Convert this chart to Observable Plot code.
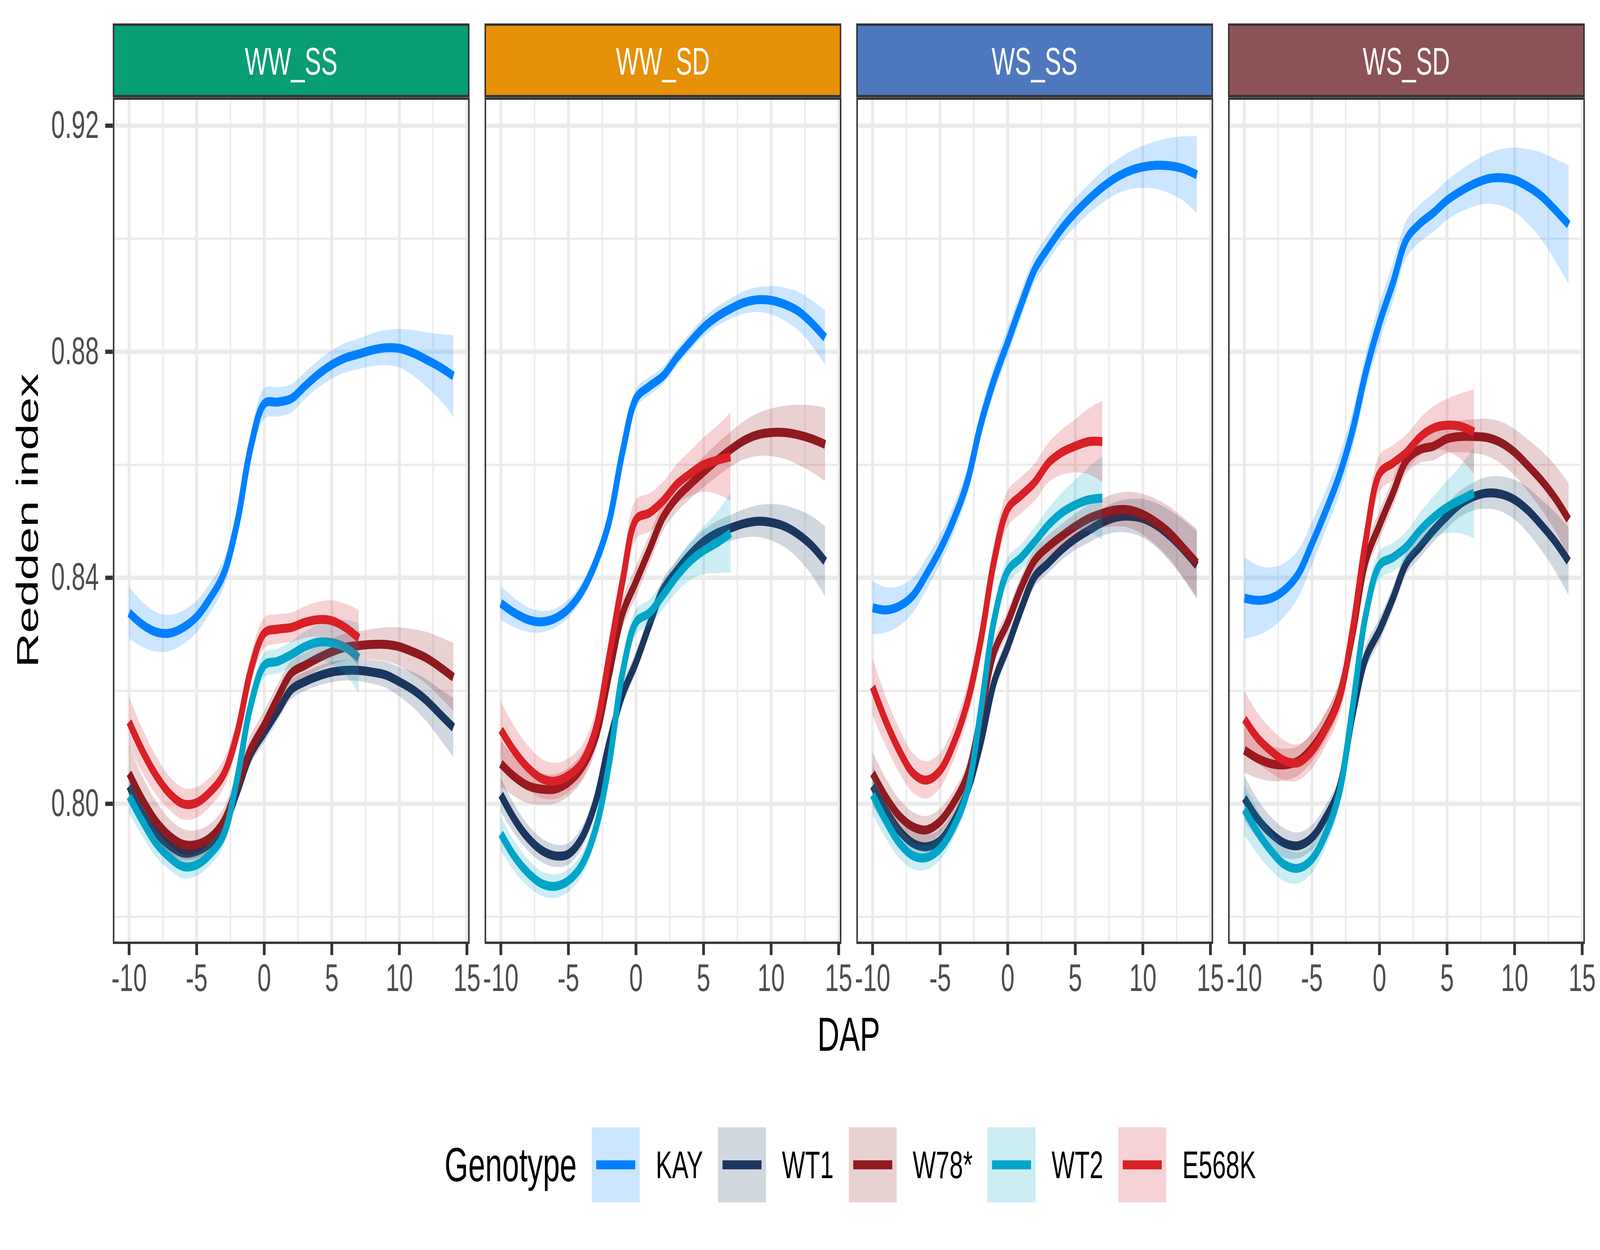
<!DOCTYPE html>
<html>
<head>
<meta charset="utf-8">
<script src="https://cdn.jsdelivr.net/npm/d3@7"></script>
<script src="https://cdn.jsdelivr.net/npm/@observablehq/plot@0.6"></script>
<style>
  html, body { margin: 0; padding: 0; background: #ffffff; overflow: hidden; }
  #outer { position: relative; overflow: hidden; width: 6400px; height: 3200px; background: #ffffff; }
  #wrap { position: absolute; left: 0; top: 0; width: 6400px; height: 3200px; background: #ffffff;
          transform-origin: 0 0;
          font-family: "Liberation Sans", Arial, Helvetica, sans-serif; }
  #chart { position: absolute; left: 0; top: 0; }
  #legend { position: absolute; left: 1778px; top: 2886px; height: 192px;
            display: flex; align-items: center; color: #000; }
  #legend .title { font-size: 122px; margin-right: 60px; line-height: 1; }
  #legend .key { width: 192px; height: 192px; display: block; }
  #legend .lab { font-size: 98px; margin-left: 64px; margin-right: 60px; line-height: 1; }
</style>
</head>
<body>
<div id="outer"><div id="wrap"><div id="chart"></div><div id="legend"></div></div></div>
<script>
// ---------------- data ----------------
const treatments = ["WW_SS", "WW_SD", "WS_SS", "WS_SD"];
const stripColors = ["#089D74", "#E69006", "#4E78BE", "#8C5357"];
const genotypes = ["KAY", "WT1", "W78*", "WT2", "E568K"];
const genoColors = ["#0080FF", "#1B365F", "#8F1A1F", "#00A5C8", "#D92027"];
const dapLong = [-10,-9,-8,-7,-6,-5,-4,-3,-2,-1,0,1,2,3,4,5,6,7,8,9,10,11,12,13,14];
const dapShort = [-10,-9,-8,-7,-6,-5,-4,-3,-2,-1,0,1,2,3,4,5,6,7];
const xTicks = [-10, -5, 0, 5, 10, 15];
const xMinor = [-7.5, -2.5, 2.5, 7.5, 12.5];
const yTicks = [0.80, 0.84, 0.88, 0.92];
const yMinor = [0.78, 0.82, 0.86, 0.90];

// WW_SS
const WW_SS_KAY   = [0.8338,0.8317,0.8304,0.8302,0.8312,0.8331,0.8364,0.8407,0.8498,0.8631,0.8708,0.8711,0.8717,0.8739,0.8760,0.8777,0.8789,0.8796,0.8803,0.8807,0.8806,0.8798,0.8786,0.8773,0.8757];
const WW_SS_WT1   = [0.8031,0.7983,0.7949,0.7926,0.7913,0.7916,0.7930,0.7959,0.8021,0.8088,0.8126,0.8164,0.8202,0.8216,0.8226,0.8233,0.8236,0.8236,0.8233,0.8228,0.8216,0.8202,0.8183,0.8159,0.8135];
const WW_SS_W78   = [0.8054,0.8007,0.7969,0.7943,0.7928,0.7928,0.7940,0.7969,0.8031,0.8097,0.8140,0.8188,0.8231,0.8245,0.8258,0.8269,0.8277,0.8280,0.8282,0.8282,0.8278,0.8269,0.8258,0.8242,0.8224];
const WW_SS_WT2   = [0.8013,0.7969,0.7930,0.7905,0.7889,0.7892,0.7911,0.7945,0.8045,0.8174,0.8245,0.8252,0.8264,0.8278,0.8286,0.8285,0.8277,0.8258];
const WW_SS_E568K = [0.8145,0.8093,0.8050,0.8018,0.8000,0.8002,0.8021,0.8052,0.8125,0.8236,0.8302,0.8309,0.8312,0.8321,0.8326,0.8324,0.8312,0.8293];
// WW_SD
const WW_SD_KAY   = [0.8355,0.8338,0.8326,0.8322,0.8328,0.8345,0.8376,0.8426,0.8498,0.8622,0.8717,0.8739,0.8757,0.8789,0.8817,0.8843,0.8862,0.8876,0.8887,0.8892,0.8891,0.8884,0.8872,0.8851,0.8825];
const WW_SD_WT1   = [0.8016,0.7973,0.7940,0.7918,0.7908,0.7911,0.7940,0.8002,0.8107,0.8193,0.8250,0.8317,0.8379,0.8412,0.8441,0.8464,0.8479,0.8488,0.8496,0.8500,0.8498,0.8491,0.8477,0.8457,0.8429];
const WW_SD_W78   = [0.8071,0.8048,0.8032,0.8026,0.8026,0.8038,0.8064,0.8116,0.8226,0.8336,0.8393,0.8450,0.8507,0.8541,0.8565,0.8587,0.8608,0.8627,0.8643,0.8653,0.8657,0.8657,0.8653,0.8646,0.8636];
const WW_SD_WT2   = [0.7947,0.7907,0.7878,0.7859,0.7854,0.7864,0.7892,0.7954,0.8069,0.8231,0.8321,0.8338,0.8369,0.8402,0.8429,0.8448,0.8462,0.8479];
const WW_SD_E568K = [0.8131,0.8093,0.8064,0.8045,0.8040,0.8050,0.8073,0.8131,0.8259,0.8393,0.8503,0.8515,0.8536,0.8565,0.8584,0.8600,0.8608,0.8614];
// WS_SS
const WS_SS_KAY   = [0.8347,0.8343,0.8350,0.8369,0.8407,0.8450,0.8503,0.8569,0.8671,0.8751,0.8817,0.8884,0.8946,0.8984,0.9018,0.9046,0.9070,0.9091,0.9108,0.9120,0.9127,0.9130,0.9129,0.9124,0.9113];
const WS_SS_WT1   = [0.8032,0.7988,0.7952,0.7930,0.7924,0.7935,0.7969,0.8021,0.8107,0.8216,0.8278,0.8345,0.8402,0.8426,0.8450,0.8469,0.8484,0.8498,0.8507,0.8509,0.8505,0.8493,0.8474,0.8450,0.8422];
const WS_SS_W78   = [0.8054,0.8011,0.7978,0.7959,0.7954,0.7969,0.8002,0.8050,0.8155,0.8269,0.8321,0.8383,0.8431,0.8455,0.8474,0.8491,0.8505,0.8514,0.8520,0.8520,0.8512,0.8498,0.8479,0.8453,0.8426];
const WS_SS_WT2   = [0.8016,0.7969,0.7930,0.7908,0.7905,0.7921,0.7959,0.8021,0.8164,0.8326,0.8412,0.8436,0.8464,0.8493,0.8515,0.8529,0.8538,0.8541];
const WS_SS_E568K = [0.8207,0.8145,0.8093,0.8054,0.8042,0.8059,0.8107,0.8178,0.8288,0.8431,0.8522,0.8546,0.8569,0.8603,0.8622,0.8633,0.8641,0.8641];
// WS_SD
const WS_SD_KAY   = [0.8364,0.8360,0.8364,0.8379,0.8407,0.8460,0.8517,0.8579,0.8660,0.8765,0.8851,0.8922,0.8999,0.9027,0.9046,0.9068,0.9084,0.9097,0.9106,0.9108,0.9104,0.9092,0.9075,0.9051,0.9025];
const WS_SD_WT1   = [0.8010,0.7973,0.7947,0.7930,0.7926,0.7940,0.7975,0.8026,0.8155,0.8259,0.8307,0.8364,0.8426,0.8455,0.8484,0.8509,0.8531,0.8544,0.8550,0.8548,0.8538,0.8519,0.8493,0.8464,0.8429];
const WS_SD_W78   = [0.8095,0.8080,0.8071,0.8069,0.8076,0.8099,0.8135,0.8188,0.8298,0.8431,0.8493,0.8550,0.8608,0.8627,0.8633,0.8646,0.8650,0.8650,0.8648,0.8639,0.8622,0.8598,0.8572,0.8541,0.8503];
const WS_SD_WT2   = [0.7990,0.7949,0.7916,0.7892,0.7886,0.7902,0.7945,0.8016,0.8169,0.8336,0.8422,0.8436,0.8455,0.8484,0.8507,0.8525,0.8538,0.8550];
const WS_SD_E568K = [0.8150,0.8116,0.8093,0.8076,0.8073,0.8093,0.8131,0.8183,0.8307,0.8469,0.8584,0.8603,0.8622,0.8649,0.8665,0.8670,0.8668,0.8658];

// confidence-band half widths (read from the ribbons)
const WW_SS_KAY_se   = [0.0046,0.0040,0.0035,0.0032,0.0030,0.0028,0.0026,0.0025,0.0025,0.0026,0.0027,0.0026,0.0025,0.0024,0.0024,0.0025,0.0026,0.0027,0.0029,0.0031,0.0034,0.0040,0.0048,0.0058,0.0072];
const WW_SS_WT1_se   = [0.0029,0.0025,0.0022,0.0020,0.0019,0.0018,0.0018,0.0017,0.0017,0.0018,0.0018,0.0017,0.0017,0.0017,0.0017,0.0018,0.0018,0.0019,0.0021,0.0023,0.0026,0.0031,0.0037,0.0044,0.0052];
const WW_SS_W78_se   = [0.0048,0.0041,0.0035,0.0030,0.0027,0.0025,0.0024,0.0023,0.0023,0.0024,0.0024,0.0023,0.0022,0.0022,0.0022,0.0023,0.0024,0.0025,0.0027,0.0030,0.0034,0.0040,0.0046,0.0053,0.0060];
const WW_SS_WT2_se   = [0.0030,0.0027,0.0024,0.0022,0.0021,0.0020,0.0020,0.0020,0.0021,0.0022,0.0022,0.0022,0.0023,0.0026,0.0031,0.0038,0.0048,0.0062];
const WW_SS_E568K_se = [0.0045,0.0039,0.0034,0.0030,0.0028,0.0027,0.0026,0.0025,0.0025,0.0026,0.0027,0.0026,0.0026,0.0028,0.0031,0.0036,0.0042,0.0050];
const WW_SD_KAY_se   = [0.0030,0.0026,0.0022,0.0019,0.0017,0.0016,0.0015,0.0015,0.0015,0.0016,0.0017,0.0016,0.0015,0.0015,0.0015,0.0016,0.0017,0.0018,0.0020,0.0022,0.0025,0.0029,0.0034,0.0040,0.0048];
const WW_SD_WT1_se   = [0.0030,0.0026,0.0023,0.0021,0.0020,0.0019,0.0019,0.0018,0.0018,0.0019,0.0019,0.0018,0.0018,0.0018,0.0019,0.0020,0.0021,0.0023,0.0025,0.0028,0.0032,0.0037,0.0043,0.0052,0.0062];
const WW_SD_W78_se   = [0.0040,0.0035,0.0031,0.0028,0.0026,0.0025,0.0025,0.0025,0.0025,0.0026,0.0027,0.0026,0.0025,0.0025,0.0026,0.0027,0.0029,0.0031,0.0034,0.0038,0.0042,0.0047,0.0053,0.0059,0.0065];
const WW_SD_WT2_se   = [0.0030,0.0027,0.0024,0.0022,0.0021,0.0020,0.0020,0.0021,0.0022,0.0023,0.0023,0.0023,0.0025,0.0028,0.0034,0.0042,0.0054,0.0070];
const WW_SD_E568K_se = [0.0050,0.0044,0.0039,0.0035,0.0032,0.0030,0.0030,0.0030,0.0031,0.0033,0.0035,0.0034,0.0033,0.0035,0.0040,0.0048,0.0060,0.0078];
const WS_SS_KAY_se   = [0.0047,0.0040,0.0035,0.0031,0.0028,0.0026,0.0025,0.0024,0.0024,0.0024,0.0025,0.0024,0.0024,0.0024,0.0024,0.0025,0.0026,0.0028,0.0030,0.0033,0.0037,0.0042,0.0049,0.0057,0.0068];
const WS_SS_WT1_se   = [0.0035,0.0030,0.0026,0.0023,0.0021,0.0020,0.0019,0.0018,0.0018,0.0019,0.0019,0.0018,0.0018,0.0018,0.0019,0.0020,0.0022,0.0024,0.0027,0.0030,0.0034,0.0039,0.0045,0.0052,0.0060];
const WS_SS_W78_se   = [0.0038,0.0033,0.0029,0.0026,0.0024,0.0022,0.0021,0.0020,0.0020,0.0021,0.0021,0.0020,0.0020,0.0020,0.0021,0.0022,0.0024,0.0026,0.0029,0.0032,0.0036,0.0041,0.0046,0.0053,0.0060];
const WS_SS_WT2_se   = [0.0035,0.0031,0.0027,0.0024,0.0022,0.0021,0.0020,0.0021,0.0022,0.0023,0.0023,0.0023,0.0025,0.0029,0.0035,0.0044,0.0057,0.0074];
const WS_SS_E568K_se = [0.0050,0.0044,0.0039,0.0035,0.0033,0.0031,0.0030,0.0030,0.0030,0.0031,0.0032,0.0032,0.0033,0.0035,0.0040,0.0047,0.0058,0.0072];
const WS_SD_KAY_se   = [0.0072,0.0062,0.0054,0.0047,0.0042,0.0038,0.0035,0.0034,0.0033,0.0033,0.0034,0.0034,0.0033,0.0033,0.0034,0.0035,0.0037,0.0040,0.0044,0.0050,0.0057,0.0066,0.0077,0.0090,0.0105];
const WS_SD_WT1_se   = [0.0040,0.0034,0.0029,0.0026,0.0023,0.0022,0.0021,0.0020,0.0020,0.0021,0.0021,0.0020,0.0020,0.0020,0.0021,0.0022,0.0023,0.0025,0.0028,0.0031,0.0035,0.0040,0.0045,0.0052,0.0060];
const WS_SD_W78_se   = [0.0040,0.0035,0.0031,0.0028,0.0026,0.0025,0.0024,0.0024,0.0024,0.0025,0.0025,0.0025,0.0024,0.0024,0.0025,0.0026,0.0028,0.0030,0.0033,0.0037,0.0041,0.0046,0.0052,0.0058,0.0065];
const WS_SD_WT2_se   = [0.0045,0.0039,0.0034,0.0030,0.0027,0.0025,0.0024,0.0024,0.0024,0.0025,0.0025,0.0025,0.0027,0.0031,0.0037,0.0046,0.0060,0.0080];
const WS_SD_E568K_se = [0.0050,0.0044,0.0039,0.0035,0.0032,0.0031,0.0030,0.0030,0.0030,0.0031,0.0032,0.0031,0.0031,0.0033,0.0038,0.0046,0.0058,0.0075];

// ---------------- table ----------------
const series = {
  WW_SS: [[WW_SS_KAY, WW_SS_KAY_se], [WW_SS_WT1, WW_SS_WT1_se], [WW_SS_W78, WW_SS_W78_se], [WW_SS_WT2, WW_SS_WT2_se], [WW_SS_E568K, WW_SS_E568K_se]],
  WW_SD: [[WW_SD_KAY, WW_SD_KAY_se], [WW_SD_WT1, WW_SD_WT1_se], [WW_SD_W78, WW_SD_W78_se], [WW_SD_WT2, WW_SD_WT2_se], [WW_SD_E568K, WW_SD_E568K_se]],
  WS_SS: [[WS_SS_KAY, WS_SS_KAY_se], [WS_SS_WT1, WS_SS_WT1_se], [WS_SS_W78, WS_SS_W78_se], [WS_SS_WT2, WS_SS_WT2_se], [WS_SS_E568K, WS_SS_E568K_se]],
  WS_SD: [[WS_SD_KAY, WS_SD_KAY_se], [WS_SD_WT1, WS_SD_WT1_se], [WS_SD_W78, WS_SD_W78_se], [WS_SD_WT2, WS_SD_WT2_se], [WS_SD_E568K, WS_SD_E568K_se]]
};
const rows = [];
treatments.forEach(t => {
  genotypes.forEach((g, gi) => {
    const [fit, se] = series[t][gi];
    const days = fit.length === dapLong.length ? dapLong : dapShort;
    fit.forEach((v, i) => rows.push({treatment: t, genotype: g, dap: days[i], fit: v, lo: v - se[i], hi: v + se[i]}));
  });
});

// ---------------- layout / style ----------------
const W = 6400, H = 2760;
const M = {top: 249, right: 61, bottom: H - 2416, left: 451};
const stripTop = 60;
const FONT = '"Liberation Sans", Arial, Helvetica, sans-serif';
const gridColor = "#EBEBEB", inkColor = "#333333", tickText = "#4D4D4D";

const dataMarks = [];
genotypes.forEach(g => {
  dataMarks.push(Plot.areaY(rows, {filter: d => d.genotype === g, x: "dap", y1: "lo", y2: "hi", fx: "treatment",
    fill: "genotype", fillOpacity: 0.2, curve: "catmull-rom"}));
  dataMarks.push(Plot.line(rows, {filter: d => d.genotype === g, x: "dap", y: "fit", fx: "treatment",
    stroke: "genotype", strokeWidth: 23, strokeLinecap: "butt", strokeLinejoin: "round", curve: "catmull-rom"}));
});

const plot = Plot.plot({
  width: W, height: H,
  marginTop: M.top, marginRight: M.right, marginBottom: M.bottom, marginLeft: M.left,
  style: {fontFamily: FONT, background: "white", overflow: "visible", maxWidth: "none"},
  fx: {domain: treatments, paddingInner: 60 / 1487, paddingOuter: 0, axis: null, label: null},
  x: {domain: [-11.2, 15.2]},
  y: {domain: [0.7752, 0.9250]},
  color: {domain: genotypes, range: genoColors},
  marks: [
    Plot.gridY(yMinor, {stroke: gridColor, strokeOpacity: 1, strokeWidth: 5.5}),
    Plot.gridX(xMinor, {stroke: gridColor, strokeOpacity: 1, strokeWidth: 5.5}),
    Plot.gridY(yTicks, {stroke: gridColor, strokeOpacity: 1, strokeWidth: 11}),
    Plot.gridX(xTicks, {stroke: gridColor, strokeOpacity: 1, strokeWidth: 11}),
    ...dataMarks,
    Plot.frame({stroke: inkColor, strokeWidth: 6, inset: 3}),
    Plot.axisX({ticks: xTicks, tickFormat: d => String(d), tickSize: 29, tickPadding: 22,
      stroke: inkColor, strokeWidth: 11, fill: tickText, fontSize: 98, label: null}),
    Plot.axisY({ticks: yTicks, tickFormat: d3.format(".2f"), tickSize: 30, tickPadding: 26,
      stroke: inkColor, strokeWidth: 11, fill: tickText, fontSize: 98, label: null})
  ]
});

document.getElementById("chart").appendChild(plot);

// strips, axis titles
const svg = d3.select(plot);
const fxs = plot.scale("fx");
const bw = fxs.bandwidth;
treatments.forEach((t, i) => {
  const x0 = fxs.apply(t);
  const g = svg.append("g").attr("aria-label", "strip " + t);
  g.append("rect").attr("x", x0 + 3).attr("y", stripTop + 3)
    .attr("width", bw - 6).attr("height", M.top - stripTop - 6)
    .attr("fill", stripColors[i]).attr("stroke", inkColor).attr("stroke-width", 6);
  g.append("text").attr("x", x0 + bw / 2).attr("y", stripTop + 131)
    .attr("text-anchor", "middle").attr("fill", "#ffffff")
    .attr("font-family", FONT).attr("font-size", 98).text(t);
});
const first = fxs.apply(treatments[0]), last = fxs.apply(treatments[treatments.length - 1]) + bw;
svg.append("text").attr("x", (first + last) / 2).attr("y", 2690)
  .attr("text-anchor", "middle").attr("fill", "#000").attr("font-family", FONT).attr("font-size", 122).text("DAP");
svg.append("text").attr("transform", `translate(152,${(M.top + 2416) / 2}) rotate(-90)`)
  .attr("text-anchor", "middle").attr("fill", "#000").attr("font-family", FONT).attr("font-size", 122).text("Redden index");

// legend
const legend = d3.select("#legend");
legend.append("span").attr("class", "title").text("Genotype");
genotypes.forEach((g, i) => {
  const k = legend.append("svg").attr("class", "key").attr("width", 192).attr("height", 192);
  k.append("rect").attr("width", 192).attr("height", 192).attr("fill", genoColors[i]).attr("fill-opacity", 0.2);
  k.append("line").attr("x1", 18).attr("x2", 174).attr("y1", 96).attr("y2", 96)
    .attr("stroke", genoColors[i]).attr("stroke-width", 23);
  legend.append("span").attr("class", "lab").text(g);
});

// map the 6400x3200 design onto the whole window
function fit() {
  const vw = window.innerWidth, vh = window.innerHeight;
  const outer = document.getElementById("outer");
  outer.style.width = vw + "px";
  outer.style.height = vh + "px";
  document.getElementById("wrap").style.transform = `scale(${vw / 6400}, ${vh / 3200})`;
}
fit();
window.addEventListener("resize", fit);
</script>
</body>
</html>
